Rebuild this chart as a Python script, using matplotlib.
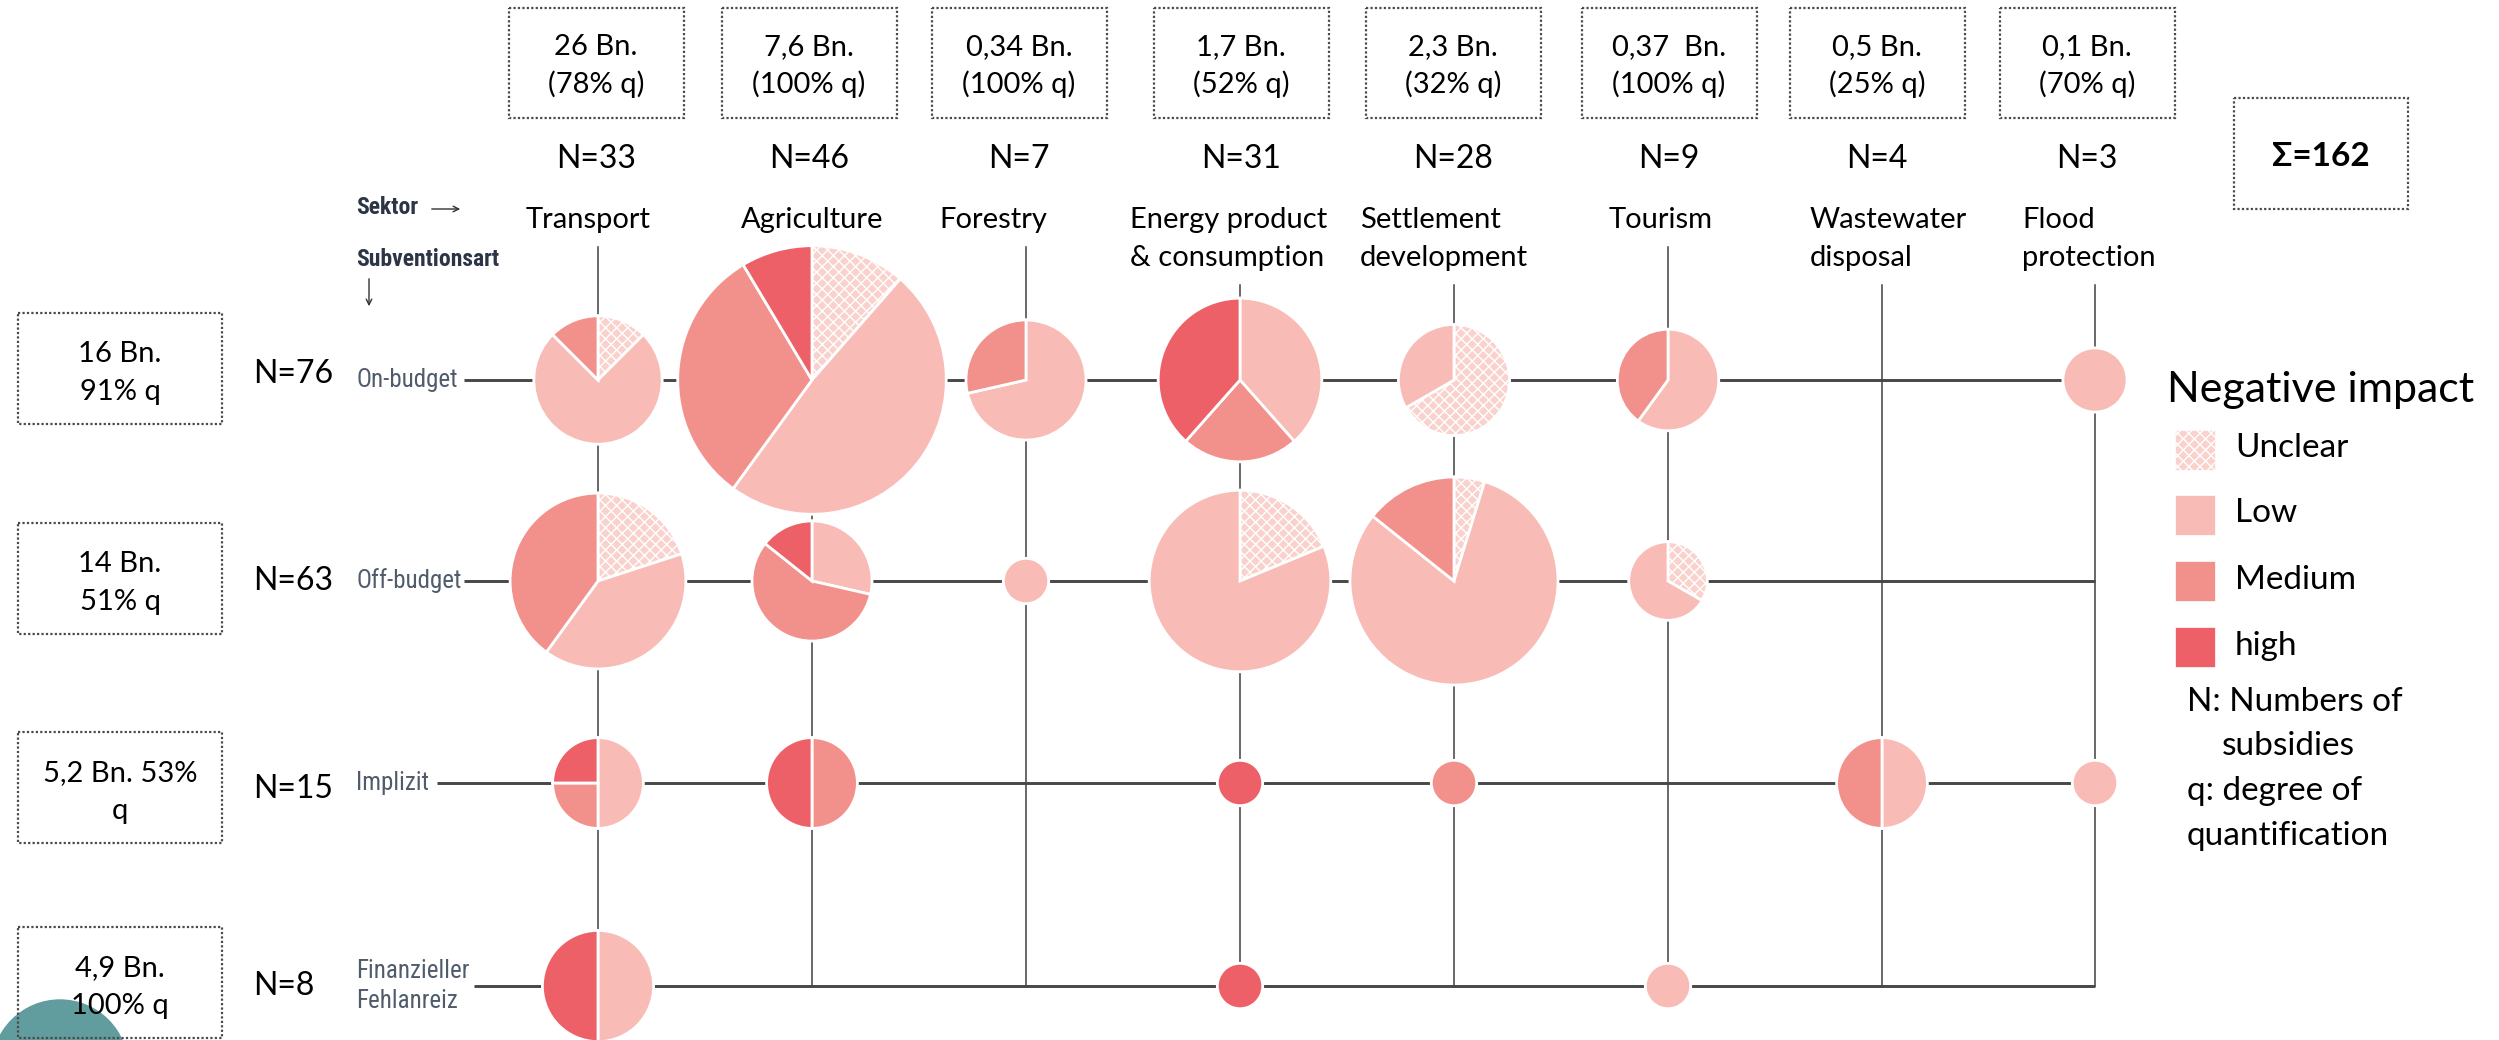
import numpy as np
import matplotlib
matplotlib.use("Agg")
import matplotlib.pyplot as plt
from matplotlib.patches import Rectangle, Circle

plt.rcParams['font.family'] = ['Lato', 'DejaVu Sans']
plt.rcParams['hatch.linewidth'] = 1.0

# ---- data ----
sectors = ["Transport", "Agriculture", "Forestry", "Energy product\n& consumption",
           "Settlement\ndevelopment", "Tourism", "Wastewater\ndisposal", "Flood\nprotection"]
sector_n = [33, 46, 7, 31, 28, 9, 4, 3]
sector_volume = ["26 Bn.\n(78% q)", "7,6 Bn.\n(100% q)", "0,34 Bn.\n(100% q)", "1,7 Bn.\n(52% q)",
                 "2,3 Bn.\n(32% q)", "0,37  Bn.\n(100% q)", "0,5 Bn.\n(25% q)", "0,1 Bn.\n(70% q)"]
types = ["On-budget", "Off-budget", "Implizit", "Finanzieller\nFehlanreiz"]
type_n = [76, 63, 15, 8]
type_volume = ["16 Bn.\n91% q", "14 Bn.\n51% q", "5,2 Bn. 53%\nq", "4,9 Bn.\n100% q"]
total_n = 162
impact = ["Unclear", "Low", "Medium", "high"]

# number of subsidies per (subsidy type, sector), one table per impact level
unclear = [[1, 4, 0, 0, 4, 0, 0, 0],
           [3, 0, 0, 3, 1, 1, 0, 0],
           [0, 0, 0, 0, 0, 0, 0, 0],
           [0, 0, 0, 0, 0, 0, 0, 0]]
low = [[6, 17, 5, 5, 2, 3, 0, 2],
       [6, 2, 1, 13, 17, 2, 0, 0],
       [2, 0, 0, 0, 0, 0, 2, 1],
       [3, 0, 0, 0, 0, 1, 0, 0]]
medium = [[1, 11, 2, 3, 0, 2, 0, 0],
          [6, 4, 0, 0, 3, 0, 0, 0],
          [1, 2, 0, 0, 1, 0, 2, 0],
          [0, 0, 0, 0, 0, 0, 0, 0]]
high = [[0, 3, 0, 5, 0, 0, 0, 0],
        [0, 1, 0, 0, 0, 0, 0, 0],
        [1, 2, 0, 1, 0, 0, 0, 0],
        [3, 0, 0, 1, 0, 0, 0, 0]]

# ---- layout / style ----
W, H = 2499, 1040
col_x = [598, 812, 1026, 1240, 1454, 1668, 1882, 2095]
row_y = [380, 581, 783, 986]
box_x = [596, 809, 1019, 1241, 1453, 1669, 1877, 2087]
label_x = [526, 741, 939, 1130, 1360, 1609, 1810, 2022]
hline_start = [464, 464, 437, 474]
rowN_base = [383, 590, 798, 995]
left_box_top = [313, 523, 732, 927]
k = 22.7  # px per sqrt(count)

colors = ["#F9D2CD", "#F8BBB5", "#F2918C", "#EE6068"]
hatches = ["xxx", None, None, None]
line_col = "#404040"
box_col = "#4a4a4a"
dot = (0, (1, 1))
cap_font = ["Roboto Condensed", "Liberation Sans Narrow", "Roboto"]

fig = plt.figure(figsize=(W / 100, H / 100), dpi=100)
ax = fig.add_axes([0, 0, 1, 1])

# grid lines
for j in range(8):
    top = 285 if "\n" in sectors[j] else 247
    ax.plot([col_x[j], col_x[j]], [top, row_y[-1]], color=line_col, lw=1.1, zorder=0.5)
for i in range(4):
    ax.plot([hline_start[i], col_x[-1]], [row_y[i], row_y[i]], color="#474747", lw=2.1,
            zorder=0.6, solid_capstyle="butt")

# pies
levels = [unclear, low, medium, high]
for i in range(4):
    for j in range(8):
        vals = [lv[i][j] for lv in levels]
        keep = [(v, c, h) for v, c, h in zip(vals, colors, hatches) if v > 0]
        if not keep:
            continue
        r = k * np.sqrt(sum(vals))
        wedges, _ = ax.pie([v for v, _, _ in keep], colors=[c for _, c, _ in keep],
                           center=(col_x[j], row_y[i]), radius=r, startangle=-90,
                           counterclock=True,
                           wedgeprops=dict(edgecolor="white", linewidth=2.0, zorder=3))
        for w, (v, c, h) in zip(wedges, keep):
            if h:
                w.set_hatch(h)

# sector header boxes
for j in range(8):
    ax.add_patch(Rectangle((box_x[j] - 87, 8), 175, 110, fill=False, ec=box_col,
                           lw=1.6, ls=dot, zorder=2))
    a, b = sector_volume[j].split("\n")
    ax.text(box_x[j], 55, a, ha="center", va="baseline", fontsize=21)
    ax.text(box_x[j], 93, b, ha="center", va="baseline", fontsize=21)
    ax.text(box_x[j], 168, f"N={sector_n[j]}", ha="center", va="baseline", fontsize=23)
    for li, part in enumerate(sectors[j].split("\n")):
        ax.text(label_x[j], 228 + 38 * li, part, ha="left", va="baseline", fontsize=21)

# subsidy type boxes
for i in range(4):
    top = left_box_top[i]
    ax.add_patch(Rectangle((18, top), 204, 111, fill=False, ec=box_col, lw=1.6, ls=dot,
                           zorder=2))
    a, b = type_volume[i].split("\n")
    ax.text(120, top + 49, a, ha="center", va="baseline", fontsize=21)
    ax.text(120, top + 87, b, ha="center", va="baseline", fontsize=21)
    ax.text(253, rowN_base[i], f"N={type_n[i]}", ha="left", va="baseline", fontsize=23)
    ax.text(356, row_y[i], types[i], ha="left", va="center", fontsize=18, color="#505c6c",
            family=cap_font, linespacing=1.35)

# axis captions
ax.text(356, 208, "Sektor", ha="left", va="center", fontsize=17, fontweight="bold",
        color="#2b3545", family=cap_font)
ax.text(356, 260, "Subventionsart", ha="left", va="center", fontsize=17, fontweight="bold",
        color="#2b3545", family=cap_font)
ax.annotate("", xy=(463, 209), xytext=(429, 209),
            arrowprops=dict(arrowstyle="->", color="#333333", lw=1.0))
ax.annotate("", xy=(369, 309), xytext=(369, 276),
            arrowprops=dict(arrowstyle="->", color="#333333", lw=1.0))

# total box
ax.add_patch(Rectangle((2234, 98), 174, 111, fill=False, ec=box_col, lw=1.6, ls=dot))
ax.text(2321, 166, f"Σ={total_n}", ha="center", va="baseline", fontsize=24, fontweight="bold")

# legend
ax.text(2167, 402, "Negative impact", ha="left", va="baseline", fontsize=31)
leg_top = [430, 495, 561, 627]
leg_base = [457, 522, 589, 655]
for n in range(4):
    p = Rectangle((2175, leg_top[n]), 40, 40, fc=colors[n], ec="white", lw=0.5)
    if hatches[n]:
        p.set_hatch(hatches[n])
    ax.add_patch(p)
    ax.text(2235, leg_base[n], impact[n], ha="left", va="baseline", fontsize=24)
ax.text(2187, 711, "N: Numbers of", ha="left", va="baseline", fontsize=24)
ax.text(2222, 755, "subsidies", ha="left", va="baseline", fontsize=24)
ax.text(2187, 800, "q: degree of", ha="left", va="baseline", fontsize=24)
ax.text(2187, 845, "quantification", ha="left", va="baseline", fontsize=24)

# decorative logo fragment
ax.add_patch(Circle((60, 1068), 68, color="#619c9e", zorder=0.2))

ax.set_xlim(0, W)
ax.set_ylim(H, 0)
ax.set_aspect("equal")
ax.axis("off")
fig.savefig("out.png", dpi=100, facecolor="white")
